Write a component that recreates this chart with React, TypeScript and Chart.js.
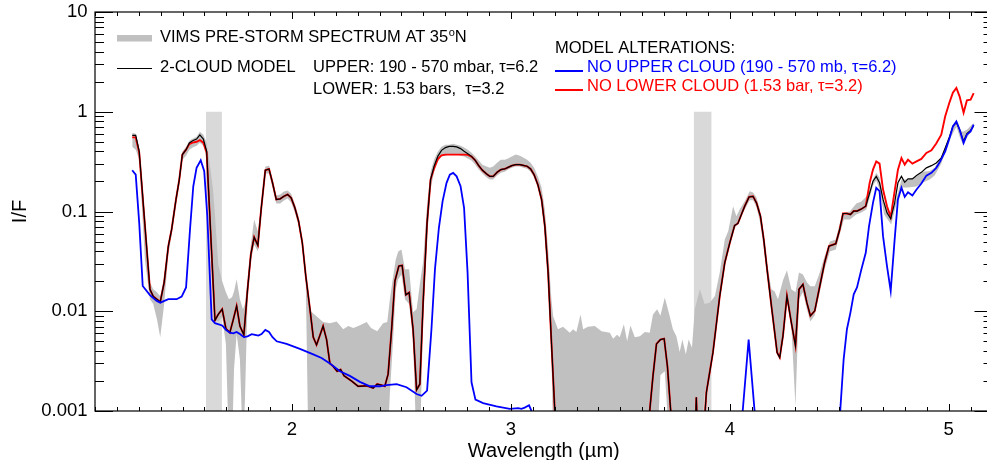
import React, { useEffect, useRef } from "react";
import { Chart, registerables } from "chart.js";

Chart.register(...registerables);

const FONT = "'Liberation Sans', Arial, Helvetica, sans-serif";
const BELOW = 0.0004;

// ---- 2-cloud model (black) and "no lower cloud" (red), same wavelength grid ----
const modelWl = [
  1.270, 1.286, 1.302, 1.351, 1.366, 1.398, 1.416, 1.435, 1.450, 1.470, 1.485, 1.499, 1.516, 1.531, 1.546, 1.564, 1.579, 1.595, 1.610,
  1.648, 1.663, 1.681, 1.698, 1.716, 1.732, 1.747, 1.762, 1.780, 1.797, 1.812, 1.827, 1.844, 1.859, 1.878, 1.895, 1.911, 1.928, 1.946,
  1.963, 1.980, 1.996, 2.013, 2.030, 2.047, 2.063, 2.082, 2.097, 2.112, 2.127, 2.142, 2.158, 2.173, 2.188, 2.206, 2.222, 2.238, 2.272,
  2.302, 2.341, 2.371, 2.389, 2.409, 2.424, 2.439, 2.455, 2.470, 2.488, 2.503, 2.520, 2.535, 2.553, 2.569, 2.584, 2.599, 2.617, 2.633,
  2.649, 2.666, 2.683, 2.701, 2.718, 2.736, 2.752, 2.770, 2.786, 2.803, 2.820, 2.837, 2.853, 2.870, 2.889, 2.904, 2.919, 2.937, 2.954,
  2.972, 2.987, 3.004, 3.022, 3.041, 3.056, 3.074, 3.090, 3.106, 3.123, 3.140, 3.155, 3.170, 3.185, 3.200, 3.215, 3.620, 3.634, 3.649,
  3.665, 3.683, 3.700, 3.715, 3.730, 3.745, 3.835, 3.847, 3.858, 3.875, 3.893, 3.923, 3.954, 3.977, 4.000, 4.022, 4.037, 4.053, 4.068,
  4.088, 4.106, 4.122, 4.140, 4.155, 4.172, 4.190, 4.205, 4.216, 4.228, 4.243, 4.261, 4.281, 4.300, 4.316, 4.334, 4.352, 4.368, 4.388,
  4.411, 4.433, 4.453, 4.484, 4.502, 4.517, 4.535, 4.551, 4.566, 4.581, 4.601, 4.621, 4.639, 4.654, 4.669, 4.684, 4.700, 4.718, 4.735,
  4.753, 4.768, 4.784, 4.799, 4.814, 4.834, 4.853, 4.875, 4.898, 4.921, 4.943, 4.966, 4.984, 5.004, 5.019, 5.035, 5.050, 5.068, 5.083,
  5.100, 5.114,
];

const twoCloud = [
  0.58, 0.58, 0.401, 0.0166, 0.0141, 0.0124, 0.0195, 0.045, 0.066, 0.132, 0.209, 0.372, 0.417, 0.486, 0.513, 0.533, 0.585, 0.533, 0.401,
  0.0081, 0.0093, 0.0105, 0.0067, 0.0061, 0.0083, 0.0113, 0.0071, 0.0058, 0.0166, 0.0372, 0.0553, 0.0457, 0.105, 0.259, 0.267, 0.194, 0.132, 0.134,
  0.142, 0.148, 0.137, 0.109, 0.080, 0.0486, 0.0225, 0.0105, 0.0055, 0.0046, 0.0057, 0.0071, 0.0052, 0.0030, 0.0028, 0.0025, 0.0026, 0.00225, 0.0020,
  0.00177, 0.00179, 0.0017, 0.00186, 0.00182, 0.00177, 0.00234, 0.0066, 0.0201, 0.0284, 0.0288, 0.0146, 0.0154, 0.0066, 0.00163, 0.00186, 0.0122, 0.077, 0.209,
  0.284, 0.357, 0.410, 0.437, 0.450, 0.450, 0.444, 0.427, 0.401, 0.380, 0.357, 0.326, 0.288, 0.259, 0.238, 0.225, 0.225, 0.247, 0.263,
  0.267, 0.277, 0.288, 0.295, 0.295, 0.290, 0.284, 0.267, 0.234, 0.186, 0.132, 0.0713, 0.0244, 0.0049, 0.00105, 0.0002, 0.0002, 0.001, 0.00225,
  0.0047, 0.0052, 0.0053, 0.0028, 0.001, 0.0002, 0.0002, 0.00137, 0.0002, 0.0004, 0.00154, 0.00386, 0.0142, 0.0307, 0.0486, 0.0724, 0.0759, 0.0933, 0.113,
  0.140, 0.142, 0.122, 0.0897, 0.0525, 0.0244, 0.0113, 0.0061, 0.00386, 0.00344, 0.0057, 0.0142, 0.0077, 0.0045, 0.0166, 0.0186, 0.0122, 0.0090, 0.0101,
  0.0179, 0.0307, 0.045, 0.0475, 0.066, 0.0955, 0.0955, 0.0933, 0.101, 0.101, 0.106, 0.113, 0.154, 0.201, 0.225, 0.194, 0.132, 0.097, 0.0845,
  0.122, 0.194, 0.225, 0.196, 0.212, 0.212, 0.229, 0.247, 0.274, 0.288, 0.307, 0.344, 0.434, 0.566, 0.713, 0.782, 0.661, 0.505, 0.603,
  0.650, 0.724,
];

const noLowerCloud = [
  0.553, 0.553, 0.39, 0.0166, 0.0141, 0.0124, 0.0195, 0.045, 0.066, 0.132, 0.209, 0.372, 0.417, 0.475, 0.49, 0.50, 0.52, 0.49, 0.39,
  0.0081, 0.0093, 0.0105, 0.0067, 0.0061, 0.0083, 0.0113, 0.0071, 0.0058, 0.0166, 0.0372, 0.0553, 0.0457, 0.105, 0.259, 0.267, 0.194, 0.132, 0.134,
  0.142, 0.148, 0.137, 0.109, 0.080, 0.0486, 0.0225, 0.0105, 0.0055, 0.0046, 0.0057, 0.0071, 0.0052, 0.0030, 0.0028, 0.0025, 0.0026, 0.00225, 0.0020,
  0.00177, 0.00179, 0.0017, 0.00186, 0.00182, 0.00177, 0.00234, 0.0066, 0.0201, 0.0284, 0.0288, 0.0146, 0.0154, 0.0066, 0.00163, 0.00186, 0.0122, 0.077, 0.209,
  0.27, 0.335, 0.365, 0.372, 0.372, 0.372, 0.372, 0.372, 0.372, 0.370, 0.355, 0.326, 0.288, 0.259, 0.238, 0.225, 0.225, 0.247, 0.263,
  0.267, 0.277, 0.288, 0.295, 0.295, 0.290, 0.284, 0.267, 0.234, 0.186, 0.132, 0.0713, 0.0244, 0.0049, 0.00105, 0.0002, 0.0002, 0.001, 0.00225,
  0.0047, 0.0052, 0.0053, 0.0028, 0.001, 0.0002, 0.0002, 0.00137, 0.0002, 0.0004, 0.00154, 0.00386, 0.0142, 0.0307, 0.0486, 0.0724, 0.0759, 0.0933, 0.113,
  0.140, 0.142, 0.122, 0.0897, 0.0525, 0.0244, 0.0113, 0.0061, 0.00386, 0.00344, 0.0057, 0.0142, 0.0077, 0.0045, 0.0166, 0.0186, 0.0122, 0.0090, 0.0101,
  0.0179, 0.0307, 0.045, 0.0475, 0.066, 0.0955, 0.0955, 0.0933, 0.101, 0.101, 0.106, 0.113, 0.194, 0.263, 0.318, 0.302, 0.166, 0.113, 0.0885,
  0.160, 0.263, 0.344, 0.295, 0.331, 0.302, 0.318, 0.337, 0.386, 0.410, 0.48, 0.589, 0.90, 1.25, 1.55, 1.73, 1.42, 0.98, 1.30,
  1.32, 1.54,
];

// ---- "no upper cloud" model (blue) ----
const noUpperWl = [
  1.270, 1.286, 1.302, 1.318, 1.351, 1.382, 1.398, 1.435, 1.473, 1.496, 1.516, 1.534, 1.549, 1.564, 1.583, 1.599, 1.613, 1.633, 1.648,
  1.681, 1.698, 1.716, 1.732, 1.747, 1.762, 1.780, 1.797, 1.816, 1.831, 1.846, 1.861, 1.878, 1.895, 1.911, 1.930, 1.975, 2.036, 2.097,
  2.135, 2.173, 2.219, 2.264, 2.310, 2.356, 2.401, 2.432, 2.478, 2.523, 2.569, 2.592, 2.617, 2.637, 2.653, 2.671, 2.688, 2.706, 2.721,
  2.736, 2.752, 2.770, 2.786, 2.802, 2.820, 2.838, 2.873, 2.934, 2.995, 3.033, 3.048, 3.063, 3.083, 3.094, 3.105, 4.045, 4.058, 4.086,
  4.114, 4.127, 4.490, 4.505, 4.520, 4.535, 4.551, 4.566, 4.581, 4.601, 4.621, 4.636, 4.654, 4.669, 4.684, 4.700, 4.718, 4.735, 4.753,
  4.768, 4.784, 4.799, 4.814, 4.834, 4.853, 4.875, 4.898, 4.921, 4.943, 4.961, 4.984, 5.004, 5.019, 5.035, 5.050, 5.068, 5.083, 5.100,
  5.114,
];

const noUpperCloud = [
  0.259, 0.234, 0.077, 0.0179, 0.0145, 0.0127, 0.0122, 0.0132, 0.0132, 0.0140, 0.0173, 0.066, 0.179, 0.274, 0.326, 0.253, 0.0897, 0.0083, 0.0076,
  0.0072, 0.0065, 0.0061, 0.0060, 0.0062, 0.0059, 0.0055, 0.0056, 0.0059, 0.0058, 0.0057, 0.0059, 0.0065, 0.0062, 0.0055, 0.0050, 0.0047, 0.0042, 0.0037,
  0.0034, 0.0030, 0.0025, 0.00225, 0.00196, 0.00177, 0.00177, 0.00182, 0.00186, 0.00173, 0.00148, 0.00142, 0.0016, 0.0066, 0.0263, 0.0687, 0.127, 0.194, 0.234,
  0.244, 0.225, 0.179, 0.109, 0.0244, 0.00194, 0.0013, 0.0012, 0.00111, 0.00105, 0.00107, 0.00105, 0.00108, 0.00114, 0.001, 0.0003, 0.0003, 0.00095, 0.0052,
  0.00095, 0.0003, 0.0003, 0.00105, 0.0033, 0.0066, 0.0097, 0.0148, 0.0173, 0.0263, 0.0386, 0.0713, 0.122, 0.173, 0.160, 0.0566, 0.0284, 0.016, 0.0525,
  0.132, 0.173, 0.140, 0.156, 0.145, 0.166, 0.191, 0.229, 0.244, 0.274, 0.318, 0.401, 0.546, 0.713, 0.80, 0.661, 0.486, 0.589, 0.635,
  0.741,
];

// ---- VIMS pre-storm spectrum (grey envelope) ----
const vimsWl = [
  1.270, 1.286, 1.302, 1.328, 1.351, 1.366, 1.383, 1.398, 1.416, 1.435, 1.450, 1.470, 1.485, 1.499, 1.516, 1.531, 1.546, 1.564, 1.579,
  1.595, 1.610, 1.625, 1.639, 1.648, 1.663, 1.681, 1.698, 1.712, 1.726, 1.735, 1.747, 1.762, 1.776, 1.785, 1.797, 1.812, 1.827, 1.844,
  1.859, 1.878, 1.895, 1.911, 1.928, 1.946, 1.963, 1.980, 1.996, 2.013, 2.030, 2.047, 2.063, 2.075, 2.082, 2.112, 2.142, 2.173, 2.204,
  2.234, 2.257, 2.280, 2.303, 2.341, 2.361, 2.389, 2.416, 2.435, 2.447, 2.462, 2.474, 2.485, 2.500, 2.516, 2.535, 2.553, 2.569, 2.584,
  2.599, 2.617, 2.633, 2.649, 2.666, 2.683, 2.701, 2.718, 2.736, 2.752, 2.770, 2.786, 2.803, 2.820, 2.837, 2.853, 2.870, 2.889, 2.904,
  2.919, 2.937, 2.954, 2.972, 2.987, 3.004, 3.022, 3.041, 3.056, 3.074, 3.090, 3.106, 3.123, 3.140, 3.155, 3.170, 3.185, 3.193, 3.215,
  3.238, 3.269, 3.284, 3.299, 3.318, 3.330, 3.352, 3.383, 3.414, 3.452, 3.467, 3.485, 3.497, 3.516, 3.531, 3.546, 3.566, 3.589, 3.612,
  3.634, 3.649, 3.668, 3.683, 3.703, 3.725, 3.740, 3.756, 3.771, 3.783, 3.799, 3.812, 3.827, 3.840, 3.863, 3.885, 3.908, 3.932, 3.954,
  3.977, 3.993, 4.015, 4.030, 4.045, 4.068, 4.091, 4.106, 4.122, 4.137, 4.151, 4.167, 4.190, 4.205, 4.220, 4.243, 4.261, 4.281, 4.300,
  4.316, 4.334, 4.352, 4.368, 4.388, 4.411, 4.433, 4.457, 4.484, 4.502, 4.521, 4.548, 4.578, 4.601, 4.624, 4.639, 4.654, 4.669, 4.684,
  4.705, 4.737, 4.760, 4.784, 4.813, 4.853, 4.882, 4.913, 4.936, 4.966, 5.004, 5.035, 5.050, 5.065, 5.083, 5.114,
];

const vimsHigh = [
  0.617, 0.603, 0.437, 0.066, 0.0195, 0.0166, 0.0155, 0.0141, 0.0219, 0.049, 0.0724, 0.145, 0.224, 0.398, 0.447, 0.513, 0.537, 0.562, 0.631,
  0.589, 0.49, 0.295, 0.166, 0.0933, 0.0295, 0.020, 0.0155, 0.0132, 0.0138, 0.0158, 0.0209, 0.0132, 0.0105, 0.0118, 0.0209, 0.0468, 0.0832, 0.063,
  0.117, 0.282, 0.288, 0.209, 0.145, 0.148, 0.159, 0.162, 0.151, 0.120, 0.0891, 0.055, 0.0234, 0.0132, 0.0102, 0.0089, 0.0078, 0.0076, 0.0079,
  0.0066, 0.0071, 0.0068, 0.0071, 0.0078, 0.0068, 0.0063, 0.0076, 0.0078, 0.0132, 0.0224, 0.033, 0.0398, 0.0417, 0.0263, 0.0263, 0.0098, 0.0105, 0.0186,
  0.0316, 0.117, 0.251, 0.331, 0.398, 0.447, 0.468, 0.468, 0.479, 0.468, 0.457, 0.437, 0.417, 0.389, 0.355, 0.324, 0.295, 0.282, 0.275,
  0.282, 0.309, 0.331, 0.331, 0.339, 0.355, 0.372, 0.363, 0.347, 0.331, 0.309, 0.275, 0.224, 0.174, 0.105, 0.0417, 0.0132, 0.0089, 0.0066,
  0.0070, 0.0061, 0.0066, 0.0062, 0.0093, 0.0066, 0.0070, 0.0071, 0.0063, 0.0061, 0.0053, 0.0058, 0.0055, 0.0074, 0.0050, 0.0072, 0.0055, 0.0056, 0.0062,
  0.0061, 0.0093, 0.0105, 0.0090, 0.0137, 0.0090, 0.0066, 0.0056, 0.0039, 0.0052, 0.0037, 0.0052, 0.0043, 0.0105, 0.0166, 0.0118, 0.0122, 0.0142, 0.0244,
  0.0525, 0.0637, 0.113, 0.0897, 0.105, 0.127, 0.160, 0.155, 0.138, 0.105, 0.066, 0.0331, 0.0166, 0.0158, 0.0132, 0.0204, 0.0257, 0.0166, 0.0155,
  0.0245, 0.0234, 0.0195, 0.0178, 0.0178, 0.0245, 0.0355, 0.0501, 0.0525, 0.0759, 0.0977, 0.100, 0.120, 0.126, 0.141, 0.166, 0.209, 0.245, 0.219,
  0.123, 0.0933, 0.132, 0.209, 0.209, 0.224, 0.251, 0.254, 0.275, 0.355, 0.575, 0.813, 0.661, 0.631, 0.661, 0.776,
];

const vimsLow = [
  0.447, 0.417, 0.331, 0.0331, 0.0132, 0.0118, 0.0083, 0.0055, 0.0118, 0.0372, 0.0575, 0.115, 0.182, 0.331, 0.363, 0.417, 0.437, 0.457, 0.49,
  0.457, 0.347, 0.066, 0.0166, 0.0081, 0.0079, 0.0087, 0.0047, BELOW, BELOW, 0.0026, 0.0059, 0.0033, BELOW, 0.0013, 0.0132, 0.0316, 0.0468, 0.0398,
  0.0955, 0.240, 0.240, 0.174, 0.120, 0.120, 0.129, 0.135, 0.123, 0.0977, 0.0724, 0.0437, 0.0186, BELOW, BELOW, BELOW, BELOW, BELOW, BELOW,
  BELOW, BELOW, BELOW, BELOW, BELOW, BELOW, BELOW, BELOW, BELOW, 0.00148, 0.0052, 0.0166, 0.0209, 0.0234, 0.0132, 0.0118, 0.0052, BELOW, BELOW,
  0.0083, 0.0525, 0.166, 0.251, 0.316, 0.355, 0.363, 0.372, 0.372, 0.372, 0.363, 0.355, 0.339, 0.324, 0.295, 0.263, 0.240, 0.219, 0.209,
  0.209, 0.229, 0.245, 0.251, 0.263, 0.275, 0.282, 0.282, 0.275, 0.269, 0.251, 0.219, 0.174, 0.120, 0.0589, 0.0186, 0.0042, BELOW, BELOW,
  BELOW, BELOW, BELOW, BELOW, BELOW, BELOW, BELOW, BELOW, BELOW, BELOW, BELOW, BELOW, BELOW, BELOW, BELOW, BELOW, BELOW, BELOW, BELOW,
  BELOW, BELOW, BELOW, 0.0023, 0.0025, BELOW, BELOW, BELOW, BELOW, BELOW, BELOW, BELOW, BELOW, BELOW, BELOW, 0.0015, 0.0025, 0.006, 0.0135,
  0.029, 0.04, 0.065, 0.072, 0.085, 0.105, 0.13, 0.13, 0.11, 0.08, 0.05, 0.026, 0.011, 0.0058, 0.0035, 0.0055, 0.013, 0.0071, 0.0011,
  0.0132, 0.0155, 0.0105, 0.0079, 0.0091, 0.0155, 0.0263, 0.0398, 0.0417, 0.0589, 0.0832, 0.0832, 0.0933, 0.0977, 0.105, 0.138, 0.182, 0.204, 0.166,
  0.0933, 0.0741, 0.117, 0.174, 0.174, 0.178, 0.195, 0.209, 0.229, 0.302, 0.525, 0.708, 0.562, 0.468, 0.550, 0.692,
];

// wavelength windows shaded light grey (from I/F = 1 down to the axis)
const maskWindows = [
  [1.607, 1.68],
  [3.835, 3.917],
];
const maskTop = 1;

const xRange = [1.1, 5.2];
const yRange = [0.001, 10];
const xTickValues = [2, 3, 4, 5];
const xTickLabels = ["2", "3", "4", "5"];
const yTickValues = [0.001, 0.01, 0.1, 1, 10];
const yTickLabels = ["0.001", "0.01", "0.1", "1", "10"];

const xTitle = "Wavelength (\u00b5m)";
const yTitle = "I/F";
const legendVims = "VIMS PRE-STORM SPECTRUM AT 35";
const legendModel = "2-CLOUD MODEL";
const legendUpper = "UPPER: 190 - 570 mbar, \u03c4=6.2";
const legendLower = "LOWER: 1.53 bars,  \u03c4=3.2";
const legendAlt = "MODEL ALTERATIONS:";
const legendNoUpper = "NO UPPER CLOUD (190 - 570 mb, \u03c4=6.2)";
const legendNoLower = "NO LOWER CLOUD (1.53 bar, \u03c4=3.2)";

const BAND_GREY = "#c0c0c0";
const MASK_GREY = "#d9d9d9";
const BLUE = "#0000ff";
const RED = "#ff0000";

const pts = (xs: number[], ys: number[]) => xs.map((x, i) => ({ x, y: ys[i] }));

const framePlugin = {
  id: "idlFrame",
  afterDatasetsDraw(chart: any) {
    const { ctx, chartArea: a, scales } = chart;
    const xs = scales.x;
    const ys = scales.y;
    ctx.save();
    ctx.strokeStyle = "#000";
    ctx.lineWidth = 1.2;
    ctx.strokeRect(a.left, a.top, a.right - a.left, a.bottom - a.top);
    ctx.lineWidth = 1;
    ctx.beginPath();
    // x ticks (inward, bottom and top)
    for (let k = 11; k <= 52; k++) {
      const v = k / 10;
      const px = Math.round(xs.getPixelForValue(v)) + 0.5;
      const len = k % 10 === 0 ? 7 : 4;
      ctx.moveTo(px, a.bottom);
      ctx.lineTo(px, a.bottom - len);
      ctx.moveTo(px, a.top);
      ctx.lineTo(px, a.top + len);
    }
    // y ticks (inward, left and right)
    for (let d = -3; d <= 1; d++) {
      for (let m = 1; m <= 9; m++) {
        const v = m * Math.pow(10, d);
        if (v < yRange[0] - 1e-12 || v > yRange[1] + 1e-9) continue;
        const py = Math.round(ys.getPixelForValue(v)) + 0.5;
        const len = m === 1 ? 18 : 9;
        ctx.moveTo(a.left, py);
        ctx.lineTo(a.left + len, py);
        ctx.moveTo(a.right, py);
        ctx.lineTo(a.right - len, py);
      }
    }
    ctx.stroke();
    ctx.restore();
  },
  afterDraw(chart: any) {
    const { ctx, chartArea: a } = chart;
    ctx.save();
    ctx.fillStyle = "#000";
    ctx.textBaseline = "alphabetic";
    // axis titles
    ctx.font = `20px ${FONT}`;
    ctx.textAlign = "center";
    ctx.fillText(xTitle, (a.left + a.right) / 2, 456.5);
    ctx.save();
    ctx.translate(26, (a.top + a.bottom) / 2);
    ctx.rotate(-Math.PI / 2);
    ctx.fillText(yTitle, 0, 0);
    ctx.restore();

    // legend
    ctx.textAlign = "left";
    const f = `16.5px ${FONT}`;
    ctx.font = f;
    ctx.fillStyle = BAND_GREY;
    ctx.fillRect(117, 35, 35, 6.5);
    ctx.fillStyle = "#000";
    ctx.fillText(legendVims, 160, 42.3);
    const w = ctx.measureText(legendVims).width;
    ctx.font = `11px ${FONT}`;
    ctx.fillText("o", 160 + w + 0.5, 35.5);
    const wo = ctx.measureText("o").width;
    ctx.font = f;
    ctx.fillText("N", 160 + w + wo + 0.5, 42.3);

    ctx.strokeStyle = "#000";
    ctx.lineWidth = 1.2;
    ctx.beginPath();
    ctx.moveTo(117, 68.5);
    ctx.lineTo(152, 68.5);
    ctx.stroke();
    ctx.fillText(legendModel, 160, 72.3);
    ctx.fillText(legendUpper, 313, 72.3);
    ctx.fillText(legendLower, 313, 94);
    ctx.fillText(legendAlt, 555, 53.3);

    ctx.lineWidth = 2;
    ctx.strokeStyle = BLUE;
    ctx.beginPath();
    ctx.moveTo(555, 71);
    ctx.lineTo(583, 71);
    ctx.stroke();
    ctx.fillStyle = BLUE;
    ctx.fillText(legendNoUpper, 587, 71.7);

    ctx.strokeStyle = RED;
    ctx.beginPath();
    ctx.moveTo(555, 90);
    ctx.lineTo(583, 90);
    ctx.stroke();
    ctx.fillStyle = RED;
    ctx.fillText(legendNoLower, 587, 90.5);
    ctx.restore();
  },
};

export default function App() {
  const ref = useRef<HTMLCanvasElement | null>(null);

  useEffect(() => {
    document.body.style.margin = "0";
    document.body.style.overflow = "hidden";
    const canvas = ref.current;
    if (!canvas) return;

    const none = "rgba(0,0,0,0)";
    const datasets: any[] = [
      {
        label: "no upper cloud",
        data: pts(noUpperWl, noUpperCloud),
        borderColor: BLUE,
        borderWidth: 1.8,
        fill: false,
        pointRadius: 0,
      },
      {
        label: "2-cloud model",
        data: pts(modelWl, twoCloud),
        borderColor: "#000",
        borderWidth: 1.2,
        fill: false,
        pointRadius: 0,
      },
      {
        label: "no lower cloud",
        data: pts(modelWl, noLowerCloud),
        borderColor: RED,
        borderWidth: 1.9,
        fill: false,
        pointRadius: 0,
      },
      {
        label: "VIMS high",
        data: pts(vimsWl, vimsHigh),
        borderColor: none,
        borderWidth: 0.01,
        backgroundColor: BAND_GREY,
        fill: "+1",
        pointRadius: 0,
      },
      {
        label: "VIMS low",
        data: pts(vimsWl, vimsLow),
        borderColor: none,
        borderWidth: 0.01,
        fill: false,
        pointRadius: 0,
      },
      ...maskWindows.map((w, i) => ({
        label: "mask " + i,
        data: [
          { x: w[0], y: maskTop },
          { x: w[1], y: maskTop },
        ],
        borderColor: none,
        borderWidth: 0.01,
        backgroundColor: MASK_GREY,
        fill: "start",
        pointRadius: 0,
      })),
    ];

    const chart = new Chart(canvas, {
      type: "line",
      data: { datasets },
      plugins: [framePlugin],
      options: {
        responsive: false,
        animation: false,
        events: [],
        layout: { padding: { top: 12, right: 7.5, left: 0, bottom: 0 } },
        elements: { line: { tension: 0 }, point: { radius: 0 } },
        plugins: { legend: { display: false }, tooltip: { enabled: false } },
        scales: {
          x: {
            type: "linear",
            min: xRange[0],
            max: xRange[1],
            grid: { display: false, drawTicks: false },
            border: { display: false },
            ticks: {
              color: "#000",
              font: { family: FONT, size: 18.5 },
              padding: 8,
              autoSkip: false,
              maxRotation: 0,
              callback: (_v: any, i: number) => xTickLabels[i],
            },
            afterBuildTicks: (s: any) => {
              s.ticks = xTickValues.map((value) => ({ value }));
            },
            afterFit: (s: any) => {
              s.height = 49;
              s.paddingLeft = 0;
              s.paddingRight = 0;
            },
          },
          y: {
            type: "logarithmic",
            min: yRange[0],
            max: yRange[1],
            grid: { display: false, drawTicks: false },
            border: { display: false },
            ticks: {
              color: "#000",
              font: { family: FONT, size: 18.5 },
              padding: 7.5,
              autoSkip: false,
              callback: (_v: any, i: number) => yTickLabels[i],
            },
            afterBuildTicks: (s: any) => {
              s.ticks = yTickValues.map((value) => ({ value }));
            },
            afterFit: (s: any) => {
              s.width = 95;
              s.paddingTop = 0;
              s.paddingBottom = 0;
            },
          },
        },
      } as any,
    });
    return () => chart.destroy();
  }, []);

  return (
    <div style={{ position: "relative", width: 987, height: 460, overflow: "hidden", background: "#fff" }}>
      <canvas ref={ref} width={1000} height={460} style={{ display: "block", width: 1000, height: 460 }} />
    </div>
  );
}
